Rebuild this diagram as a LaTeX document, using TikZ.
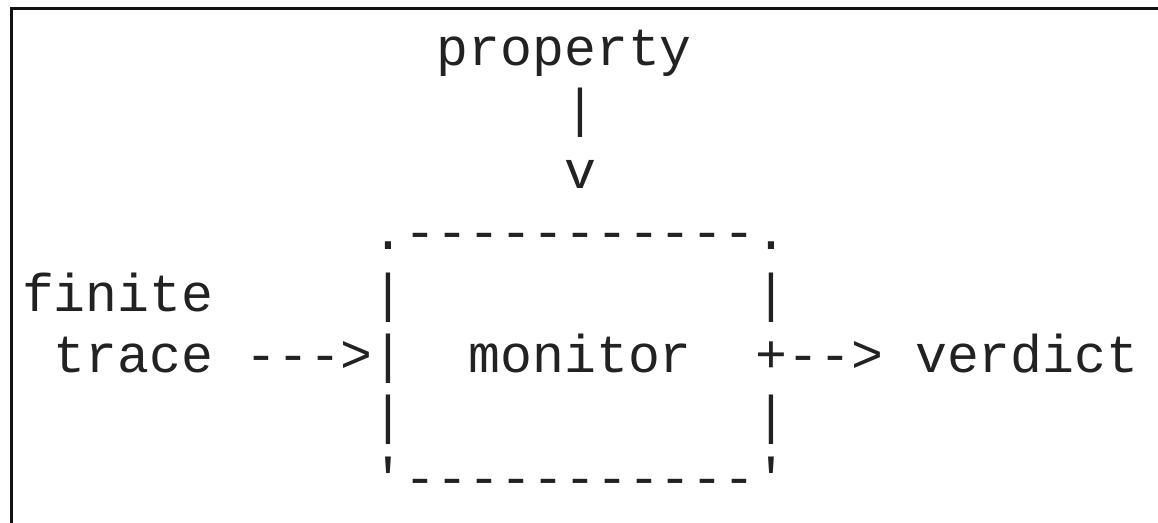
\documentclass[tikz,border=0pt]{standalone}
\usepackage{fontspec}
\setmonofont{Liberation Mono}
\usepackage{tikz}
\usetikzlibrary{positioning}

\definecolor{inkgray}{HTML}{222222}
\definecolor{framegray}{HTML}{111111}

% column / row of the character grid (in px)
\newcommand{\colx}[1]{22+31.9*#1}
\newcommand{\rowy}[1]{65.5+61.4*#1}

\begin{document}
\begin{tikzpicture}[x=0.5pt, y=-0.5pt,
    ascii/.style={anchor=base west, inner sep=0pt, outer sep=0pt, text=inkgray,
                  font=\ttfamily\fontsize{26.58}{30}\selectfont}]
    \useasboundingbox (0,0) rectangle (1158,523);

    % Frame (top and left edge only)
    \draw[framegray, line width=1.5pt] (1158,9) -- (11,9) -- (11,523);

    % Input from above
    \node[ascii] (property) at ({\colx{13}}, {\rowy{0}}) {property};
    \node[ascii] (stem)     at ({\colx{17}}, {\rowy{1}}) {|};
    \node[ascii] (tip)      at ({\colx{17}}, {\rowy{2}}) {v};

    % Monitor box
    \node[ascii] (boxtop)    at ({\colx{11}}, {\rowy{3}}) {.-----------.};
    \foreach \r in {4,5,6} {
        \node[ascii] (lbar\r) at ({\colx{11}}, {\rowy{\r}}) {|};
    }
    \foreach \r in {4,6} {
        \node[ascii] (rbar\r) at ({\colx{23}}, {\rowy{\r}}) {|};
    }
    \node[ascii] (boxbottom) at ({\colx{11}}, {\rowy{7}}) {\textquotesingle-----------\textquotesingle};
    \node[ascii] (monitor)   at ({\colx{14}}, {\rowy{5}}) {monitor};

    % Trace in, verdict out
    \node[ascii] (finite)   at ({\colx{0}},  {\rowy{4}}) {finite};
    \node[ascii] (trace)    at ({\colx{1}},  {\rowy{5}}) {trace};
    \node[ascii] (inarrow)  at ({\colx{7}},  {\rowy{5}}) {--->};
    \node[ascii] (outarrow) at ({\colx{23}}, {\rowy{5}}) {+-->};
    \node[ascii] (verdict)  at ({\colx{28}}, {\rowy{5}}) {verdict};
\end{tikzpicture}
\end{document}
